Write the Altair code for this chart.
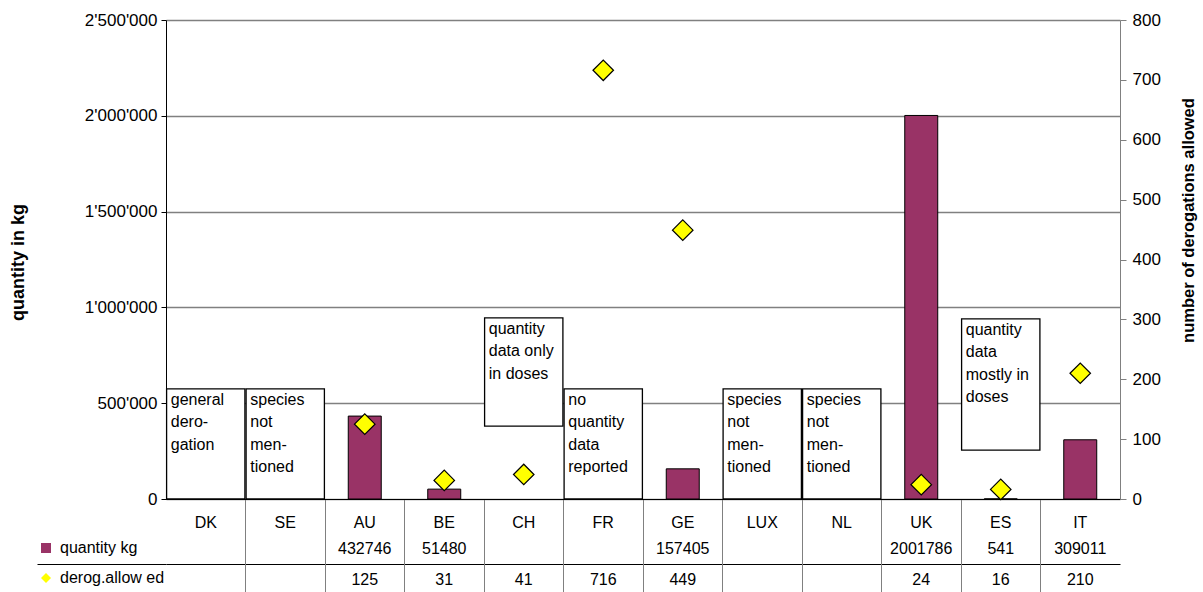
import altair as alt
import pandas as pd

# Country columns, left to right
countries = ["DK", "SE", "AU", "BE", "CH", "FR", "GE", "LUX", "NL", "UK", "ES", "IT"]
# Quantity used (kg); None where nothing was reported
quantity_kg = [None, None, 432746, 51480, None, None, 157405, None, None, 2001786, 541, 309011]
# Number of derogations allowed
derogations = [None, None, 125, 31, 41, 716, 449, None, None, 24, 16, 210]

# Note boxes drawn inside the country columns (range on the kg axis)
note_countries = ["DK", "SE", "CH", "FR", "LUX", "NL", "ES"]
note_low = [0, 0, 380000, 0, 0, 0, 255000]
note_high = [575000, 575000, 945000, 575000, 575000, 575000, 940000]
note_text = [
    "general\ndero-\ngation",
    "species\nnot\nmen-\ntioned",
    "quantity\ndata only\nin doses",
    "no\nquantity\ndata\nreported",
    "species\nnot\nmen-\ntioned",
    "species\nnot\nmen-\ntioned",
    "quantity\ndata\nmostly in\ndoses",
]

# Data-table rows under the chart
row_labels = ["quantity kg", "derog.allow ed"]

kg_ticks = [0, 500000, 1000000, 1500000, 2000000, 2500000]
derog_ticks = [0, 100, 200, 300, 400, 500, 600, 700, 800]

FONT = "Liberation Sans"
MAROON = "#993366"
YELLOW = "#ffff00"

W, H = 954, 479

qty_df = pd.DataFrame({"country": countries, "qty": quantity_kg}).dropna()
der_df = pd.DataFrame({"country": countries, "derog": derogations}).dropna()
note_df = pd.DataFrame({"country": note_countries, "low": note_low,
                        "high": note_high, "note": note_text})

table_rows = []
for c, q, d in zip(countries, quantity_kg, derogations):
    table_rows.append({"country": c, "row": row_labels[0],
                       "txt": "" if q is None else str(int(q))})
    table_rows.append({"country": c, "row": row_labels[1],
                       "txt": "" if d is None else str(int(d))})
table_df = pd.DataFrame(table_rows)
key_df = pd.DataFrame({"row": row_labels})

x_scale = alt.Scale(domain=countries, paddingInner=0, paddingOuter=0)
x_axis = alt.Axis(
    orient="bottom", bandPosition=0, tickSize=93,
    tickColor=alt.condition("datum.value == 'DK'", alt.value("transparent"), alt.value("#808080")),
    labelOffset=0, labelPadding=-78, labelAngle=0, labelAlign="center",
    labelBaseline="top", labelFontSize=16,
    labelFont=FONT, labelColor="black", domainColor="black", title=None,
)
x_enc = alt.X("country:N", scale=x_scale, sort=countries, axis=x_axis, title=None)

kg_scale = alt.Scale(domain=[0, 2500000], nice=False, zero=True)
kg_axis = alt.Axis(
    orient="left", values=kg_ticks, grid=True, gridColor="#808080", gridWidth=1.3,
    tickSize=5, tickColor="black", domainColor="black",
    labelFontSize=17, labelFont=FONT, labelColor="black", labelPadding=4,
    labelExpr="replace(format(datum.value, ','), regexp(',', 'g'), \"'\")",
    title="quantity in kg", titleFont=FONT, titleFontSize=18, titleFontWeight="bold",
    titleColor="black", titleAngle=270, titleX=-148, titleY=242,
    titleAlign="center", titleBaseline="middle",
)

bars = alt.Chart(qty_df).mark_bar(
    color=MAROON, stroke="black", strokeWidth=1, width=alt.RelativeBandSize(0.415)
).encode(
    x=x_enc,
    y=alt.Y("qty:Q", scale=kg_scale, axis=kg_axis),
)

boxes = alt.Chart(note_df).mark_bar(
    fill="white", stroke="black", strokeWidth=1.3, width=alt.RelativeBandSize(0.985)
).encode(
    x=alt.X("country:N", scale=x_scale, sort=countries),
    y=alt.Y("high:Q", scale=kg_scale),
    y2="low:Q",
)

box_text = alt.Chart(note_df).mark_text(
    align="left", baseline="top", dx=-35, dy=3, lineBreak="\n", lineHeight=22.5,
    fontSize=16, font=FONT, color="black",
).encode(
    x=alt.X("country:N", scale=x_scale, sort=countries),
    y=alt.Y("high:Q", scale=kg_scale),
    text="note:N",
)

kg_layer = alt.layer(boxes, bars, box_text)

derog_layer = alt.Chart(der_df).mark_point(
    shape="diamond", filled=True, fill=YELLOW, stroke="black", strokeWidth=1.2,
    size=420, opacity=1,
).encode(
    x=alt.X("country:N", scale=x_scale, sort=countries),
    y=alt.Y("derog:Q", scale=alt.Scale(domain=[0, 800], nice=False),
            axis=alt.Axis(orient="right", values=derog_ticks, grid=False,
                          tickSize=6, tickColor="#808080", domainColor="#808080",
                          labelFontSize=17, labelFont=FONT, labelColor="black",
                          labelPadding=6,
                          title="number of derogations allowed", titleFont=FONT,
                          titleFontSize=16.5, titleFontWeight="bold", titleColor="black",
                          titleAngle=270, titleX=68, titleY=200,
                          titleAlign="center", titleBaseline="middle")),
)

row_scale = alt.Scale(type="band", domain=row_labels, range=[513, 575],
                      paddingInner=0, paddingOuter=0)
row_axis = alt.Axis(orient="left", values=[row_labels[1]], bandPosition=0,
                    grid=True, gridColor="black", gridWidth=1, tickSize=129,
                    tickColor="black", labels=False, domain=False, title=None)

table_text = alt.Chart(table_df).mark_text(
    fontSize=16, font=FONT, color="black", baseline="middle"
).encode(
    x=alt.X("country:N", scale=x_scale, sort=countries),
    y=alt.Y("row:N", scale=row_scale, axis=row_axis, sort=row_labels),
    text="txt:N",
)

key_legend = alt.Legend(
    orient="none", legendX=-128, legendY=520, direction="vertical", title=None,
    labelFontSize=16, labelFont=FONT, labelColor="black", labelOffset=6,
    rowPadding=14, symbolSize=100, symbolStrokeColor="black", symbolStrokeWidth=1,
    symbolOpacity=1, padding=0,
)
keys = alt.Chart(key_df).mark_point(
    filled=True, stroke="black", strokeWidth=1, opacity=0
).encode(
    y=alt.Y("row:N", scale=row_scale, sort=row_labels),
    color=alt.Color("row:N", sort=row_labels,
                    scale=alt.Scale(domain=row_labels, range=[MAROON, YELLOW]),
                    legend=key_legend),
    shape=alt.Shape("row:N", sort=row_labels,
                    scale=alt.Scale(domain=row_labels, range=["square", "diamond"]),
                    legend=key_legend),
)

table_layer = alt.layer(table_text, keys)

chart = alt.layer(kg_layer, derog_layer, table_layer).resolve_scale(
    y="independent"
).properties(
    width=W, height=H,
    autosize=alt.AutoSizeParams(type="none"),
    padding={"left": 166, "top": 20, "right": 1203 - 166 - W, "bottom": 592 - 20 - H},
    background="white",
).configure_view(stroke=None)

chart.save("out.html", embed_options={"renderer": "svg", "actions": False})
